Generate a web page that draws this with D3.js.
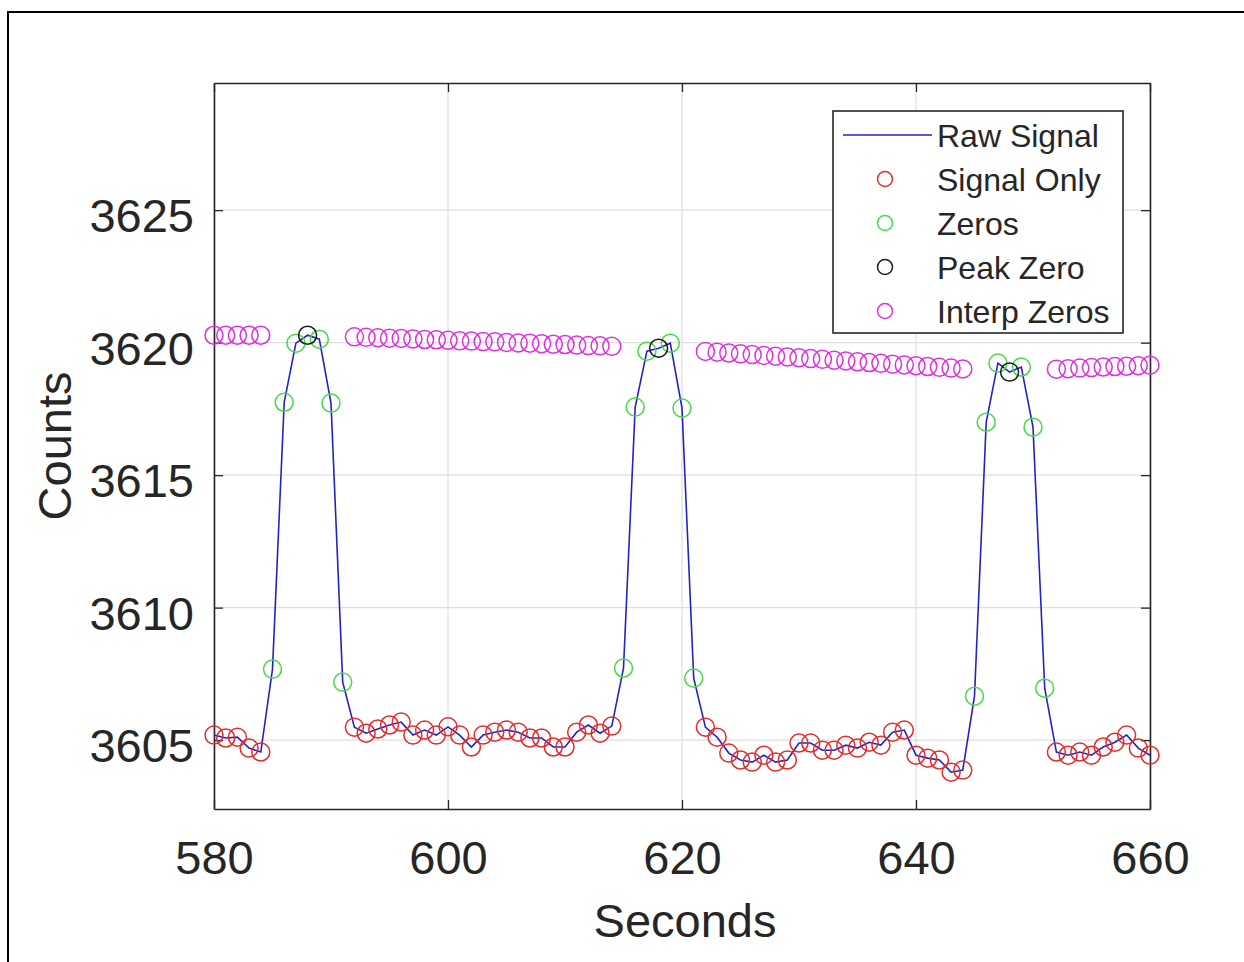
<!DOCTYPE html>
<html>
<head>
<meta charset="utf-8">
<script src="https://cdn.jsdelivr.net/npm/d3@7"></script>
<style>
  body { margin: 0; background: #fff; }
  svg { display: block; font-family: "Liberation Sans", Arial, sans-serif; }
</style>
</head>
<body>
<div id="chart"></div>
<script>
// seconds for each sample of the raw signal
var seconds = d3.range(580, 661);

// raw signal, one value per second (580..660)
var rawSignal = [
  3605.19, 3605.08, 3605.11, 3604.70, 3604.55,            // 580-584
  3607.68, 3617.75, 3619.98, 3620.28, 3620.13, 3617.72, 3607.19, // 585-591
  3605.49, 3605.26, 3605.42, 3605.57, 3605.68, 3605.19, 3605.38, 3605.19,
  3605.50, 3605.19, 3604.74, 3605.19, 3605.30, 3605.38, 3605.30, 3605.08,
  3605.08, 3604.74, 3604.74, 3605.30, 3605.57, 3605.26, 3605.53,  // 592-614
  3607.72, 3617.57, 3619.68, 3619.79, 3619.98, 3617.53, 3607.34, // 615-621
  3605.49, 3605.11, 3604.51, 3604.25, 3604.17, 3604.43, 3604.17, 3604.25,
  3604.89, 3604.89, 3604.62, 3604.62, 3604.81, 3604.70, 3604.92, 3604.81,
  3605.30, 3605.38, 3604.43, 3604.32, 3604.25, 3603.79, 3603.87,  // 622-644
  3606.66, 3617.00, 3619.23, 3618.89, 3619.08, 3616.81, 3606.96, // 645-651
  3604.55, 3604.43, 3604.55, 3604.43, 3604.74, 3604.92, 3605.19, 3604.70,
  3604.43                                                         // 652-660
];

// which seconds are zeros / peak zeros
var zeroSeconds = [585, 586, 587, 589, 590, 591, 615, 616, 617, 619, 620, 621, 645, 646, 647, 649, 650, 651];
var peakSeconds = [588, 618, 648];

// interpolated zero level for the signal-only seconds
var interpSeconds = [580, 581, 582, 583, 584,
  592, 593, 594, 595, 596, 597, 598, 599, 600, 601, 602, 603, 604, 605, 606, 607, 608, 609, 610, 611, 612, 613, 614,
  622, 623, 624, 625, 626, 627, 628, 629, 630, 631, 632, 633, 634, 635, 636, 637, 638, 639, 640, 641, 642, 643, 644,
  652, 653, 654, 655, 656, 657, 658, 659, 660];
var interpZeros = [3620.28, 3620.28, 3620.28, 3620.28, 3620.28,
  3620.22, 3620.20, 3620.19, 3620.17, 3620.16, 3620.14, 3620.12, 3620.11, 3620.09, 3620.07, 3620.06, 3620.04,
  3620.03, 3620.01, 3619.99, 3619.98, 3619.96, 3619.94, 3619.93, 3619.91, 3619.89, 3619.88, 3619.86,
  3619.67, 3619.64, 3619.61, 3619.58, 3619.55, 3619.52, 3619.49, 3619.46, 3619.43, 3619.40, 3619.37, 3619.34,
  3619.31, 3619.28, 3619.25, 3619.22, 3619.19, 3619.16, 3619.13, 3619.10, 3619.07, 3619.04, 3619.01,
  3619.00, 3619.02, 3619.04, 3619.06, 3619.08, 3619.10, 3619.11, 3619.13, 3619.15];

var xTicks = [580, 600, 620, 640, 660];
var yTicks = [3605, 3610, 3615, 3620, 3625];
var legendLabels = ["Raw Signal", "Signal Only", "Zeros", "Peak Zero", "Interp Zeros"];

var colors = {line: "#2323c4", signal: "#e32b2b", zero: "#45da45", peak: "#1a1a1a", interp: "#e02ee0"};

var svgWidth = 1244, svgHeight = 962;
var margin = {top: 83, right: 94, bottom: 153, left: 214};
var width = svgWidth - margin.left - margin.right;
var height = svgHeight - margin.top - margin.bottom;

var svg = d3.select("#chart").append("svg")
    .attr("width", svgWidth)
    .attr("height", svgHeight);

// frame of the screenshot
svg.append("path")
   .attr("d", "M8,962 L8,12 L1244,12")
   .attr("fill", "none")
   .attr("stroke", "#000")
   .attr("stroke-width", 2);

var g = svg.append("g").attr("transform", `translate(${margin.left}, ${margin.top})`);

var x = d3.scaleLinear().domain([580, 660]).range([0, width]);
var y = d3.scaleLinear().domain([3602.4, 3629.8]).range([height, 0]);

// grid
g.selectAll(".xgrid").data(xTicks).enter().append("line")
  .attr("x1", d => x(d)).attr("x2", d => x(d))
  .attr("y1", 0).attr("y2", height)
  .attr("stroke", "#dedede").attr("stroke-width", 1.2);
g.selectAll(".ygrid").data(yTicks).enter().append("line")
  .attr("x1", 0).attr("x2", width)
  .attr("y1", d => y(d)).attr("y2", d => y(d))
  .attr("stroke", "#dedede").attr("stroke-width", 1.2);

// axes (ticks inside, mirrored on all sides)
var axisStyle = function(sel) {
  sel.selectAll(".domain").attr("stroke", "#262626").attr("stroke-width", 1.6);
  sel.selectAll(".tick line").attr("stroke", "#262626").attr("stroke-width", 1.3);
  sel.selectAll("text").attr("fill", "#262626").style("font-size", "47px");
};
g.append("g").attr("transform", `translate(0, ${height})`)
  .call(d3.axisBottom(x).tickValues(xTicks).tickSizeInner(-9).tickSizeOuter(0).tickPadding(32))
  .call(axisStyle);
g.append("g")
  .call(d3.axisLeft(y).tickValues(yTicks).tickFormat(d3.format("d")).tickSizeInner(-9).tickSizeOuter(0).tickPadding(20))
  .call(axisStyle)
  .selectAll("text").attr("dy", "0.46em");
g.append("g")
  .call(d3.axisTop(x).tickValues(xTicks).tickSizeInner(-9).tickSizeOuter(0).tickFormat(""))
  .call(axisStyle);
g.append("g").attr("transform", `translate(${width}, 0)`)
  .call(d3.axisRight(y).tickValues(yTicks).tickSizeInner(-9).tickSizeOuter(0).tickFormat(""))
  .call(axisStyle);

// axis labels
svg.append("text")
  .attr("x", 685).attr("y", 937)
  .attr("text-anchor", "middle")
  .attr("fill", "#262626").style("font-size", "47px")
  .text("Seconds");
svg.append("text")
  .attr("transform", "translate(71, 446) rotate(-90)")
  .attr("text-anchor", "middle")
  .attr("fill", "#262626").style("font-size", "47px")
  .text("Counts");

// data
var signal = seconds.map(function(s, i) { return {s: s, v: rawSignal[i]}; });
var zeros = signal.filter(d => zeroSeconds.indexOf(d.s) >= 0);
var peaks = signal.filter(d => peakSeconds.indexOf(d.s) >= 0);
var signalOnly = signal.filter(d => zeroSeconds.indexOf(d.s) < 0 && peakSeconds.indexOf(d.s) < 0);
var interp = interpSeconds.map(function(s, i) { return {s: s, v: interpZeros[i]}; });

var plot = g.append("g");

var line = d3.line().x(d => x(d.s)).y(d => y(d.v));
plot.append("path")
  .datum(signal)
  .attr("d", line)
  .attr("fill", "none")
  .attr("stroke", colors.line)
  .attr("stroke-width", 1.6);

function drawCircles(data, color) {
  plot.append("g").selectAll("circle")
    .data(data).enter().append("circle")
    .attr("cx", d => x(d.s))
    .attr("cy", d => y(d.v))
    .attr("r", 9)
    .attr("fill", "none")
    .attr("stroke", color)
    .attr("stroke-width", 1.5);
}
drawCircles(signalOnly, colors.signal);
drawCircles(zeros, colors.zero);
drawCircles(peaks, colors.peak);
drawCircles(interp, colors.interp);

// legend
var legend = svg.append("g").attr("transform", "translate(833, 111)");
legend.append("rect")
  .attr("width", 290).attr("height", 222)
  .attr("fill", "#fff")
  .attr("stroke", "#262626").attr("stroke-width", 1.6);
var legendColors = [colors.line, colors.signal, colors.zero, colors.peak, colors.interp];
legendLabels.forEach(function(label, i) {
  var cy = 24 + i * 44;
  if (i === 0) {
    legend.append("line")
      .attr("x1", 10).attr("x2", 99).attr("y1", cy).attr("y2", cy)
      .attr("stroke", legendColors[i]).attr("stroke-width", 1.6);
  } else {
    legend.append("circle")
      .attr("cx", 52).attr("cy", cy)
      .attr("r", 7.5)
      .attr("fill", "none")
      .attr("stroke", legendColors[i]).attr("stroke-width", 1.5);
  }
  legend.append("text")
    .attr("x", 104).attr("y", cy + 12)
    .attr("fill", "#262626").style("font-size", "32px")
    .text(label);
});
</script>
</body>
</html>
